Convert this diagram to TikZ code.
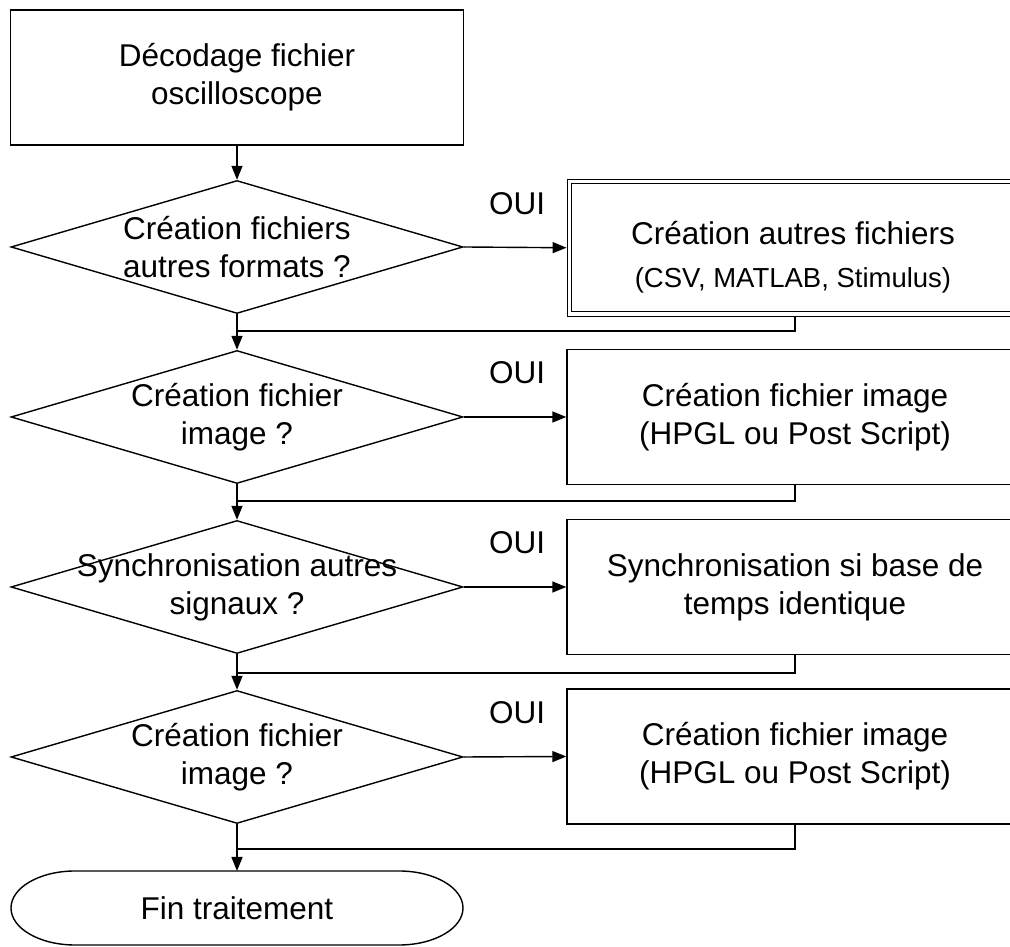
\documentclass[tikz,border=0pt]{standalone}
\usepackage{fontspec}
\setmainfont{Liberation Sans}
\usetikzlibrary{shapes.geometric,arrows.meta}

\tikzset{
  txt/.style={align=center,font=\fontsize{31.5pt}{38pt}\selectfont,inner sep=0pt},
  proc/.style={txt,draw,line width=1.4pt,minimum width=456pt,minimum height=135pt},
  procdbl/.style={draw,double,line width=1.2pt,double distance=3.5pt,outer sep=2.95pt,
    minimum width=451pt,minimum height=132.5pt,inner sep=0pt},
  decision/.style={diamond,draw,line width=1.4pt,minimum width=452pt,minimum height=133pt,inner sep=0pt},
  flow/.style={line width=1.4pt,-{Triangle[length=14pt,width=11pt]}},
  link/.style={line width=1.4pt},
  oui/.style={txt,above=32pt,pos=0.52},
  term/.style={txt,minimum width=452pt,minimum height=74pt,outer sep=0pt}
}

\begin{document}
\begin{tikzpicture}[x=1pt,y=1pt]
  \useasboundingbox (0,0) rectangle (1010,947);
  \clip (0,0) rectangle (1010,947);

  \node[proc,minimum width=453pt] (start) at (237,869.5) {Décodage fichier\\oscilloscope};

  \node[decision] (d1) at (237,700) {};
  \node[txt] (d1t) at (d1.center) {Création fichiers\\autres formats ?};
  \node[decision] (d2) at (237,530) {};
  \node[txt] (d2t) at (d2.center) {Création fichier\\image ?};
  \node[decision] (d3) at (237,360) {};
  \node[txt] (d3t) at (d3.center) {Synchronisation autres\\signaux ?};
  \node[decision] (d4) at (237,190) {};
  \node[txt] (d4t) at (d4.center) {Création fichier\\image ?};

  \node[procdbl] (b1) at (795,699.25) {};
  \node[txt] (b1t) at (793,690) {Création autres fichiers\\[5pt]{\fontsize{27.5pt}{32pt}\selectfont(CSV, MATLAB, Stimulus)}};
  \node[proc] (b2) at (795,530) {Création fichier image\\(HPGL ou Post Script)};
  \node[proc] (b3) at (795,360) {Synchronisation si base de\\temps identique};
  \node[proc] (b4) at (795,190.5) {Création fichier image\\(HPGL ou Post Script)};

  \node[term] (fin) at (237,39) {Fin traitement};
  \draw[link] ([xshift=64pt]fin.north west) -- ([xshift=-64pt]fin.north east)
    arc[start angle=90,end angle=-90,x radius=64pt,y radius=37pt]
    -- ([xshift=64pt]fin.south west)
    arc[start angle=270,end angle=90,x radius=64pt,y radius=37pt] -- cycle;

  \coordinate (m1) at (237,616);
  \coordinate (m2) at (237,446);
  \coordinate (m3) at (237,274);
  \coordinate (m4) at (237,98);

  \draw[flow] (start.south) -- (d1.north);
  \draw[flow] (d1.east) -- node[oui] (o1) {OUI} (b1.west);
  \draw[link] (b1.south) |- (m1);
  \draw[flow] (d1.south) -- (d2.north);
  \draw[flow] (d2.east) -- node[oui] (o2) {OUI} (b2.west);
  \draw[link] (b2.south) |- (m2);
  \draw[flow] (d2.south) -- (d3.north);
  \draw[flow] (d3.east) -- node[oui] (o3) {OUI} (b3.west);
  \draw[link] (b3.south) |- (m3);
  \draw[flow] (d3.south) -- (d4.north);
  \draw[flow] (d4.east) -- node[oui] (o4) {OUI} (b4.west);
  \draw[link] (b4.south) |- (m4);
  \draw[flow] (d4.south) -- (fin.north);
\end{tikzpicture}
\end{document}
